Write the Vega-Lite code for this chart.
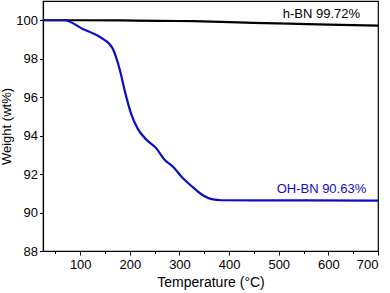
{
  "$schema": "https://vega.github.io/schema/vega-lite/v6.json",
  "autosize": "none",
  "width": 335,
  "height": 250,
  "padding": {"left": 43, "top": 1, "right": 12, "bottom": 42},
  "config": {
    "view": {"stroke": "black", "strokeWidth": 1.2},
    "font": "Liberation Sans",
    "axis": {"grid": false, "domainColor": "black", "tickColor": "black", "labelColor": "black", "titleColor": "black", "labelFont": "Liberation Sans", "titleFont": "Liberation Sans", "labelFontSize": 13, "titleFontSize": 14, "titleFontWeight": "normal", "domainWidth": 1.2, "tickWidth": 1, "labelOverlap": false, "tickSize": 3.5}
  },
  "datasets": {
    "curves": [
      {"s": "h-BN", "T": 25, "W": 100.0},
      {"s": "h-BN", "T": 100, "W": 100.0},
      {"s": "h-BN", "T": 185, "W": 99.99},
      {"s": "h-BN", "T": 260, "W": 99.97},
      {"s": "h-BN", "T": 327, "W": 99.95},
      {"s": "h-BN", "T": 400, "W": 99.9},
      {"s": "h-BN", "T": 448, "W": 99.86},
      {"s": "h-BN", "T": 520, "W": 99.82},
      {"s": "h-BN", "T": 600, "W": 99.77},
      {"s": "h-BN", "T": 700, "W": 99.72},
      {"s": "OH-BN", "T": 25, "W": 100.0},
      {"s": "OH-BN", "T": 68, "W": 100.0},
      {"s": "OH-BN", "T": 105, "W": 99.55},
      {"s": "OH-BN", "T": 142, "W": 99.09},
      {"s": "OH-BN", "T": 165, "W": 98.55},
      {"s": "OH-BN", "T": 172, "W": 98.1},
      {"s": "OH-BN", "T": 180, "W": 97.4},
      {"s": "OH-BN", "T": 190, "W": 96.3},
      {"s": "OH-BN", "T": 203, "W": 95.1},
      {"s": "OH-BN", "T": 216, "W": 94.35},
      {"s": "OH-BN", "T": 233, "W": 93.8},
      {"s": "OH-BN", "T": 253, "W": 93.35},
      {"s": "OH-BN", "T": 270, "W": 92.75},
      {"s": "OH-BN", "T": 287, "W": 92.38},
      {"s": "OH-BN", "T": 307, "W": 91.78},
      {"s": "OH-BN", "T": 327, "W": 91.32},
      {"s": "OH-BN", "T": 347, "W": 90.9},
      {"s": "OH-BN", "T": 365, "W": 90.7},
      {"s": "OH-BN", "T": 385, "W": 90.64},
      {"s": "OH-BN", "T": 450, "W": 90.63},
      {"s": "OH-BN", "T": 550, "W": 90.63},
      {"s": "OH-BN", "T": 700, "W": 90.62}
    ],
    "labels": [
      {"s": "h-BN", "T": 586, "W": 100.3, "txt": "h-BN 99.72%"},
      {"s": "OH-BN", "T": 586, "W": 91.25, "txt": "OH-BN  90.63%"}
    ]
  },
  "resolve": {"axis": {"x": "independent"}},
  "layer": [
    {
      "data": {"name": "curves"},
      "mark": {"type": "line", "strokeWidth": 2.2, "clip": true, "interpolate": "monotone"},
      "encoding": {
        "x": {"field": "T", "type": "quantitative", "scale": {"domain": [25, 700], "nice": false, "zero": false},
          "axis": {"title": "Temperature (\u00b0C)", "orient": "bottom", "values": [100, 200, 300, 400, 500, 600, 700],
            "tickSize": 4, "labelPadding": 3, "titlePadding": 4}},
        "y": {"field": "W", "type": "quantitative", "scale": {"domain": [88, 101], "nice": false, "zero": false},
          "axis": {"title": "Weight (wt%)", "values": [88, 89, 90, 91, 92, 93, 94, 95, 96, 97, 98, 99, 100],
            "labelExpr": "datum.value % 2 == 0 ? datum.label : ''",
            "labelPadding": 2, "titlePadding": 2, "titleFontSize": 13}},
        "color": {"field": "s", "type": "nominal", "scale": {"domain": ["h-BN", "OH-BN"], "range": ["black", "#0c0cc8"]}, "legend": null},
        "order": {"field": "T", "type": "quantitative"}
      }
    },
    {
      "data": {"name": "labels"},
      "mark": {"type": "text", "fontSize": 13, "font": "Liberation Sans", "align": "center", "baseline": "middle"},
      "encoding": {
        "x": {"field": "T", "type": "quantitative",
          "axis": {"orient": "bottom", "title": null, "labels": false, "domain": false, "tickSize": 2.5, "values": [50, 150, 250, 350, 450, 550, 650]}},
        "y": {"field": "W", "type": "quantitative"},
        "text": {"field": "txt"},
        "color": {"field": "s", "type": "nominal", "legend": null}
      }
    }
  ]
}
